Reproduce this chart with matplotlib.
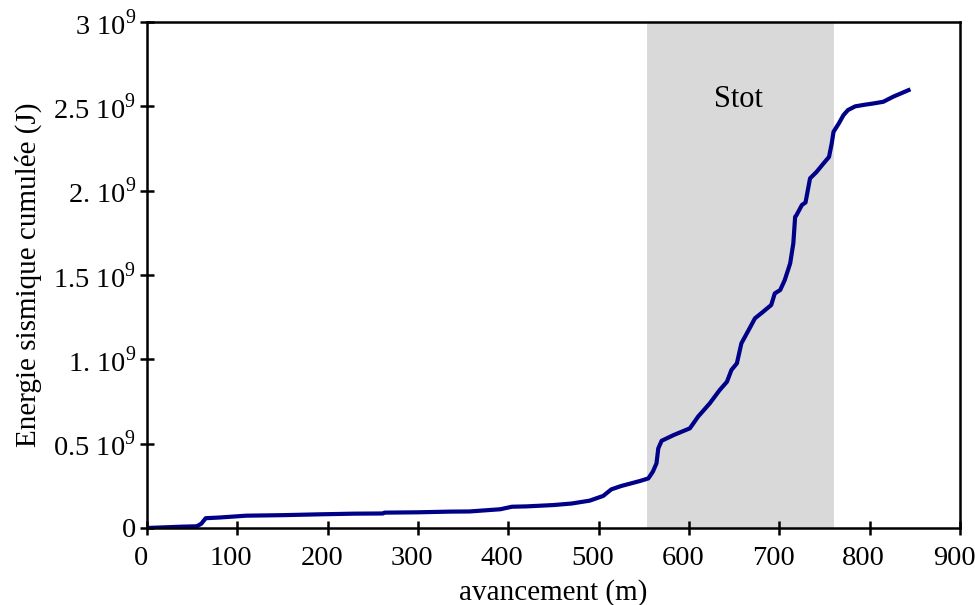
import matplotlib.pyplot as plt
import matplotlib.transforms as mtransforms
from matplotlib.ticker import FixedLocator

plt.rcParams['font.family'] = ['Liberation Serif', 'DejaVu Serif']
plt.rcParams['mathtext.fontset'] = 'custom'
plt.rcParams['mathtext.rm'] = 'Liberation Serif'

# cumulative seismic energy vs advance
avancement = [0, 10, 25, 40, 55, 60, 65, 80, 110, 150,
              191, 230, 261, 263, 300, 335, 357, 391, 404, 420,
              450, 470, 490, 505, 514, 525, 546, 555, 560, 564,
              566, 569.7, 583, 592, 601, 610, 623, 634, 642, 647,
              653, 658, 668, 673, 682, 691, 695, 701, 706, 712,
              715.5, 717.5, 719, 725, 729, 734, 741, 749, 755, 758,
              760, 766, 771, 776, 784, 795, 804, 815, 826, 843]
energie = [0, 0.002, 0.005, 0.008, 0.010, 0.025, 0.058, 0.062, 0.073, 0.076,
           0.081, 0.085, 0.086, 0.091, 0.093, 0.097, 0.098, 0.111, 0.126, 0.128,
           0.136, 0.145, 0.162, 0.19, 0.229, 0.249, 0.279, 0.294, 0.334, 0.383,
           0.472, 0.517, 0.551, 0.571, 0.591, 0.660, 0.739, 0.818, 0.867, 0.937,
           0.976, 1.095, 1.193, 1.243, 1.282, 1.322, 1.391, 1.411, 1.470, 1.569,
           1.688, 1.845, 1.855, 1.915, 1.93, 2.073, 2.11, 2.162, 2.20, 2.28,
           2.349, 2.40, 2.448, 2.478, 2.50, 2.51, 2.517, 2.527, 2.557, 2.596]
energie = [e * 1e9 for e in energie]

stot_start, stot_end = 554, 760

yticks = [0, 0.5e9, 1e9, 1.5e9, 2e9, 2.5e9, 3e9]
ylabels = ['0', '0.5 10$^{9}$', '1. 10$^{9}$', '1.5 10$^{9}$',
           '2. 10$^{9}$', '2.5 10$^{9}$', '3 10$^{9}$']

fig = plt.figure(figsize=(9.75, 6.05), dpi=100)
ax = fig.add_axes([0.1508, 0.1273, 0.8338, 0.8363])

ax.axvspan(stot_start, stot_end, color='#d9d9d9', lw=0, zorder=0)
ax.text(655, 2.54e9, 'Stot', ha='center', va='center', fontsize=22)

ax.plot(avancement, energie, color='#000088', lw=3, solid_joinstyle='round')

ax.set_xlim(0, 900)
ax.set_ylim(0, 3e9)
ax.xaxis.set_major_locator(FixedLocator(range(0, 901, 100)))
ax.set_yticks(yticks)
ax.set_yticklabels(ylabels)
ax.tick_params(direction='inout', length=10, width=1.8, labelsize=20.5)
ax.tick_params(axis='x', pad=8)
ax.tick_params(axis='y', pad=3)
for s in ax.spines.values():
    s.set_linewidth(1.8)

# x tick labels sit a little left of their ticks in the original
shift = mtransforms.ScaledTranslation(-0.06, 0, fig.dpi_scale_trans)
for lab in ax.get_xticklabels():
    lab.set_transform(lab.get_transform() + shift)

ax.set_xlabel('avancement (m)', fontsize=21, labelpad=6)
ax.set_ylabel('Energie sismique cumulée (J)', fontsize=21, labelpad=8)

fig.savefig('out.png', dpi=100)
